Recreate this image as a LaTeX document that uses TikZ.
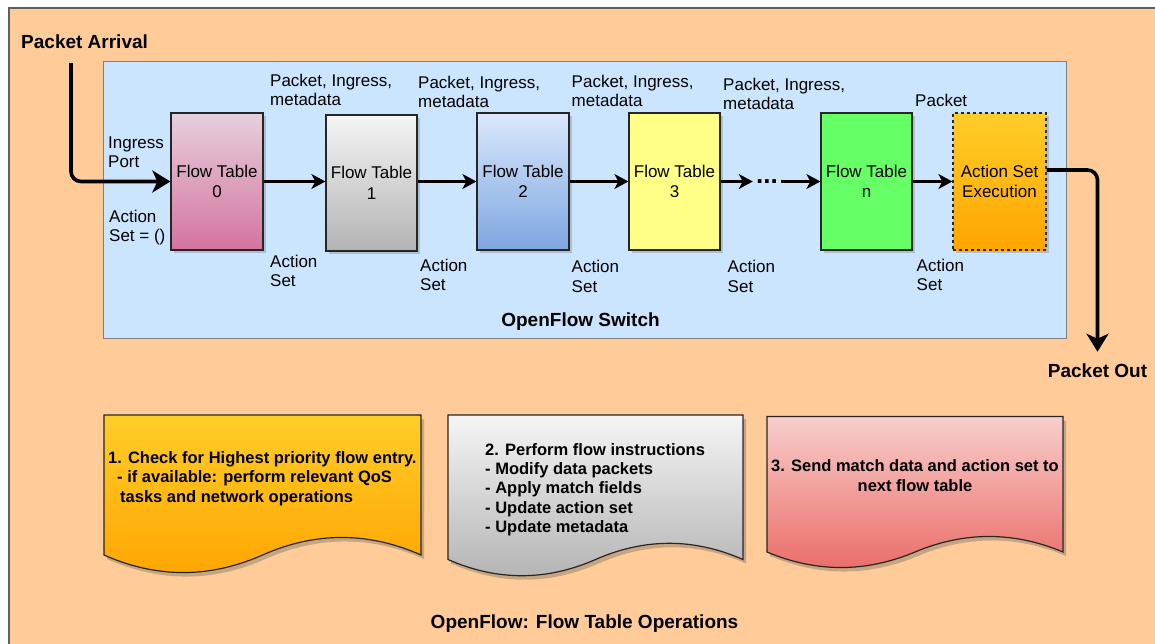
\documentclass[tikz,border=0pt]{standalone}
\usepackage{fontspec}
\setmainfont{Liberation Sans}
\usetikzlibrary{arrows.meta,shadows}

\definecolor{peach}{HTML}{FFCC99}
\definecolor{switchblue}{HTML}{CCE5FF}
\definecolor{frame}{HTML}{5F5F5F}
\definecolor{pinkT}{HTML}{E6D0DE}
\definecolor{pinkB}{HTML}{D5739D}
\definecolor{greyT}{HTML}{F5F5F5}
\definecolor{greyB}{HTML}{B3B3B3}
\definecolor{blueT}{HTML}{DAE8FC}
\definecolor{blueB}{HTML}{7EA6E0}
\definecolor{lemon}{HTML}{FFFF88}
\definecolor{lime}{HTML}{66FF66}
\definecolor{amberT}{HTML}{FFCD28}
\definecolor{amberB}{HTML}{FFA500}
\definecolor{roseT}{HTML}{F8CECC}
\definecolor{roseB}{HTML}{EA6B66}

\begin{document}
\begin{tikzpicture}[x=1pt,y=-1pt,
  lbl/.style={anchor=north west, inner sep=0, align=left,
    font=\fontsize{17}{19.5}\selectfont},
  ttl/.style={inner sep=0, font=\bfseries\fontsize{19}{22}\selectfont},
  shade/.style={drop shadow={shadow xshift=2.5pt, shadow yshift=-2.5pt,
    opacity=0.25, fill=black!70}},
  tbl/.style={draw=black!85, line width=1.3, minimum width=92,
    minimum height=137, inner sep=0, align=center,
    font=\fontsize{17}{20.5}\selectfont, shade},
  flow/.style={line width=2.2, -{Stealth[length=14pt,width=15pt,inset=4pt]}},
  bigflow/.style={line width=3.6, rounded corners=10pt,
    -{Stealth[length=18pt,width=22pt,inset=5pt]}},
  doc/.style={draw=black!85, line width=1.2,
    drop shadow={shadow xshift=3pt, shadow yshift=-4pt, opacity=0.3, fill=black!70}},
  doctext/.style={inner sep=0, font=\bfseries\fontsize{16.5}{19.3}\selectfont},
]
\useasboundingbox (0,0) rectangle (1155,643);
\clip (0,0) rectangle (1155,643);
\fill[white] (0,0) rectangle (1155,643);

% background panel and switch area
\draw[frame, line width=1.3, fill=peach] (9,8) rectangle (1170,660);
\draw[gray, line width=1.3, fill=switchblue] (103.5,61.5) rectangle (1066.5,338.5);

% flow tables
\node[tbl, top color=pinkT, bottom color=pinkB] (ft0) at (217,181.5) {Flow Table\\0};
\node[tbl, top color=greyT, bottom color=greyB, minimum width=91, minimum height=136] (ft1) at (371.5,183) {Flow Table\\1};
\node[tbl, top color=blueT, bottom color=blueB] (ft2) at (523,181.5) {Flow Table\\2};
\node[tbl, fill=lemon, minimum width=91] (ft3) at (674.5,181.5) {Flow Table\\3};
\node[tbl, fill=lime, minimum width=91] (ftn) at (866.5,181.5) {Flow Table\\n};
\node[tbl, dashed, top color=amberT, bottom color=amberB, minimum width=93] (ase) at (999.5,181.5) {Action Set\\Execution};

% continuation dots
\node[inner xsep=3.2pt, inner ysep=0, font=\bfseries\fontsize{26}{26}\selectfont] (dots) at (767,181.5) {...};

% connectors
\draw[flow] (ft0.east) -- (ft0.east -| ft1.west);
\draw[flow] (ft1.east |- ft2.west) -- (ft2.west);
\draw[flow] (ft2.east) -- (ft3.west);
\draw[flow] (ft3.east) -- (dots.west);
\draw[flow] (dots.east) -- (ftn.west);
\draw[flow] (ftn.east) -- (ase.west);

% arrival and exit
\node[ttl, anchor=base west] (pin) at (21,48.3) {Packet Arrival};
\coordinate (arr) at (71,63);
\draw[bigflow] (arr) |- (ft0.west);
\node[ttl, anchor=base] (pout) at (1097.5,377.7) {Packet Out};
\draw[bigflow, shorten >=12pt] ([yshift=11.5pt]ase.east) -| (pout.north);

% data labels
\node[lbl] (ing) at (108,136.1) {Ingress\\Port};
\node[lbl] (as0) at (109,209.5) {Action\\Set = ()};
\node[lbl] (pm1) at (270,73.8) {Packet, Ingress,\\metadata};
\node[lbl] (pm2) at (418,75.8) {Packet, Ingress,\\metadata};
\node[lbl] (pm3) at (571.5,74.8) {Packet, Ingress,\\metadata};
\node[lbl] (pm4) at (723,77.8) {Packet, Ingress,\\metadata};
\node[lbl] (pk) at (915,93.8) {Packet};
\node[lbl] (as1) at (270,254.8) {Action\\Set};
\node[lbl] (as2) at (420,258.8) {Action\\Set};
\node[lbl] (as3) at (571.5,260.3) {Action\\Set};
\node[lbl] (as4) at (727.5,260.3) {Action\\Set};
\node[lbl] (as5) at (916.5,258.8) {Action\\Set};

\node[ttl, anchor=base] (sw) at (580.5,326) {OpenFlow Switch};

% operation documents
\path[doc, top color=amberT, bottom color=amberB]
  (104,415) -- (421,415) -- (421,555)
  .. controls (368.2,531.6) and (315.3,531.6) .. (262.5,555)
  .. controls (209.7,578.4) and (156.8,578.4) .. (104,555) -- cycle;
\path[doc, top color=greyT, bottom color=greyB]
  (448,415) -- (743,415) -- (743,559.5)
  .. controls (693.8,537.9) and (644.7,537.9) .. (595.5,559.5)
  .. controls (546.3,581.1) and (497.2,581.1) .. (448,559.5) -- cycle;
\path[doc, top color=roseT, bottom color=roseB]
  (767,416.5) -- (1063,416.5) -- (1063,552)
  .. controls (1013.7,531.3) and (964.3,531.3) .. (915,552)
  .. controls (865.7,572.7) and (816.3,572.7) .. (767,552) -- cycle;

\node[doctext, anchor=north west, align=left] (d1) at (108,451.3)
  {1. Check for Highest priority flow entry.\\
   \hspace*{9pt}- if available: perform relevant QoS\\
   \hspace*{12pt}tasks and network operations};
\node[doctext, anchor=north west, align=left] (d2) at (485,443.1)
  {2. Perform flow instructions\\- Modify data packets\\- Apply match fields\\- Update action set\\- Update metadata};
\node[doctext, anchor=north, align=center] (d3) at (915,459.8)
  {3. Send match data and action set to\\next flow table};

\node[ttl, anchor=base] (ops) at (584.5,628) {OpenFlow: Flow Table Operations};
\end{tikzpicture}
\end{document}
